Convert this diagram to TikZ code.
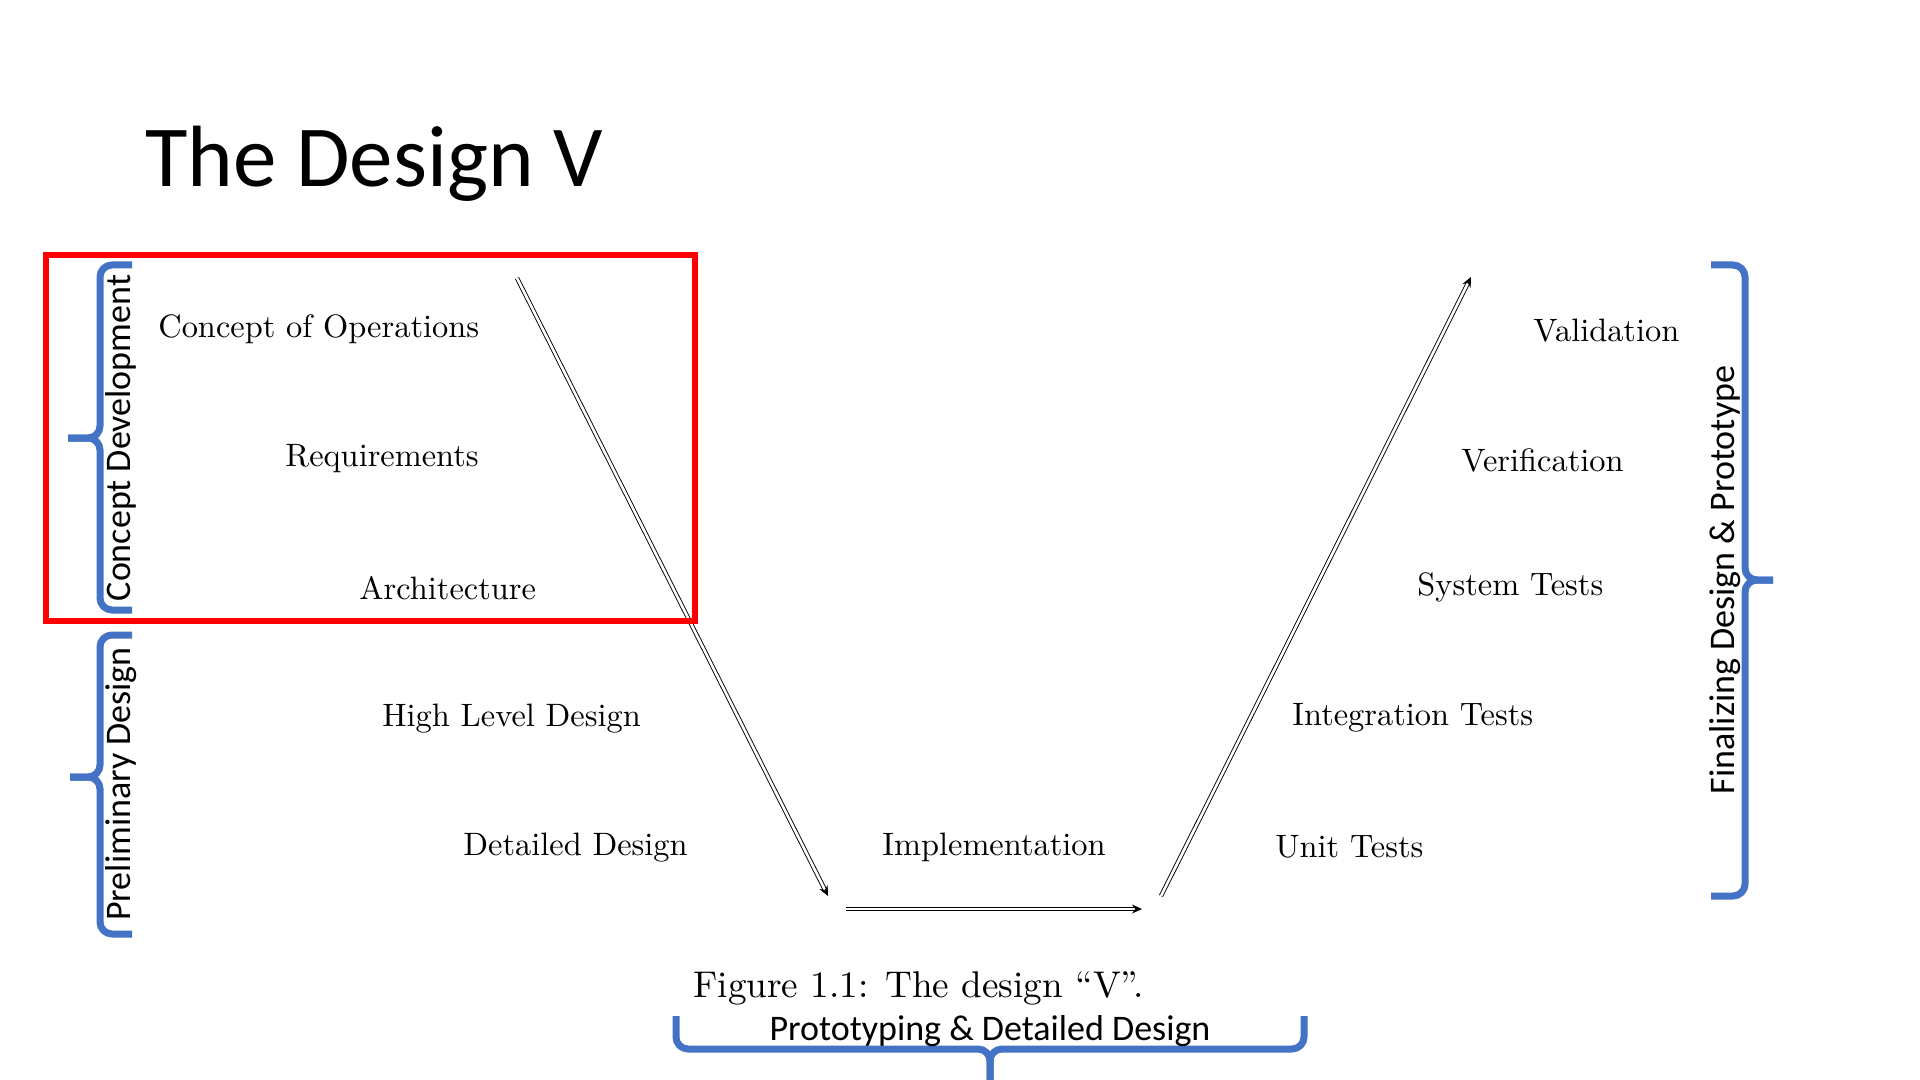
\documentclass[tikz,border=0pt]{standalone}
\usepackage{fontspec}
\newfontfamily\slidefont{Carlito}
\newfontfamily\figfont{lmroman10-regular.otf}[Ligatures=TeX]
\usetikzlibrary{arrows.meta}
\definecolor{braceblue}{HTML}{4472C4}
\definecolor{framered}{HTML}{FF0000}
\begin{document}
\begin{tikzpicture}[x=0.5pt,y=-0.5pt,
  lbl/.style={anchor=base west, inner sep=0pt, font=\figfont\fontsize{16.2}{19}\selectfont},
  side/.style={inner sep=0pt, font=\slidefont\fontsize{18}{22}\selectfont},
  brace/.style={draw=braceblue, line width=3.5pt, rounded corners=6pt},
  vflow/.style={draw=black, line width=0.45pt, double, double distance=1.3pt,
                -{Stealth[length=5pt,width=4.5pt]}}]
\path[use as bounding box, fill=white] (0,0) rectangle (1920,1080);

% slide title
\node[anchor=base west, inner sep=0pt, font=\slidefont\fontsize{43.5}{52}\selectfont]
  (title) at (145,187) {The Design V};

% left leg of the V
\node[lbl] (cop)  at (158,338) {Concept of Operations};
\node[lbl] (req)  at (285,466) {Requirements};
\node[lbl] (arch) at (359,599) {Architecture};
\node[lbl] (hld)  at (382,726) {High Level Design};
\node[lbl] (dd)   at (463,855) {Detailed Design};
% bottom
\node[lbl] (impl) at (882,855) {Implementation};
% right leg of the V
\node[lbl] (ut)   at (1275,857) {Unit Tests};
\node[lbl] (it)   at (1292,725) {Integration Tests};
\node[lbl] (st)   at (1417,595) {System Tests};
\node[lbl] (ver)  at (1461,471) {Verification};
\node[lbl] (val)  at (1533,342) {Validation};

% caption
\node[anchor=base west, inner sep=0pt, font=\figfont\fontsize{18.6}{22}\selectfont]
  (cap) at (693,997) {Figure 1.1: The design ``V''.};

% flow arrows
\coordinate (l1) at (517,278);
\coordinate (l2) at (828,896);
\coordinate (b1) at (846,909);
\coordinate (b2) at (1142,909);
\coordinate (r1) at (1161,896);
\coordinate (r2) at (1471,277);
\draw[vflow] (l1) -- (l2);
\draw[vflow] (b1) -- (b2);
\draw[vflow] (r1) -- (r2);

% highlight frame
\draw[framered, line width=3pt] (46,255) rectangle (695,621);

% phase braces
\draw[brace] (132,265) -- (100,265) -- (100,438) -- (68,438);
\draw[brace] (68,438) -- (100,438) -- (100,610) -- (132,610);
\draw[brace] (132,635) -- (100,635) -- (100,777) -- (70,777);
\draw[brace] (70,777) -- (100,777) -- (100,934) -- (132,934);
\draw[brace] (1711,265) -- (1745,265) -- (1745,580) -- (1773,580);
\draw[brace] (1773,580) -- (1745,580) -- (1745,896) -- (1711,896);
\draw[brace] (676,1016) -- (676,1049) -- (990,1049) -- (990,1090);
\draw[brace] (1304,1016) -- (1304,1049) -- (990,1049) -- (990,1090);

% phase names
\node[side, rotate=90, anchor=base] (cdtxt) at (130,438) {Concept Development};
\node[side, rotate=90, anchor=base] (pdtxt) at (130,784) {Preliminary Design};
\node[side, rotate=90, anchor=base] (fdtxt) at (1734,580) {Finalizing Design \& Prototype};
\node[side, anchor=base] (ptxt) at (990,1040) {Prototyping \& Detailed Design};
\end{tikzpicture}
\end{document}
